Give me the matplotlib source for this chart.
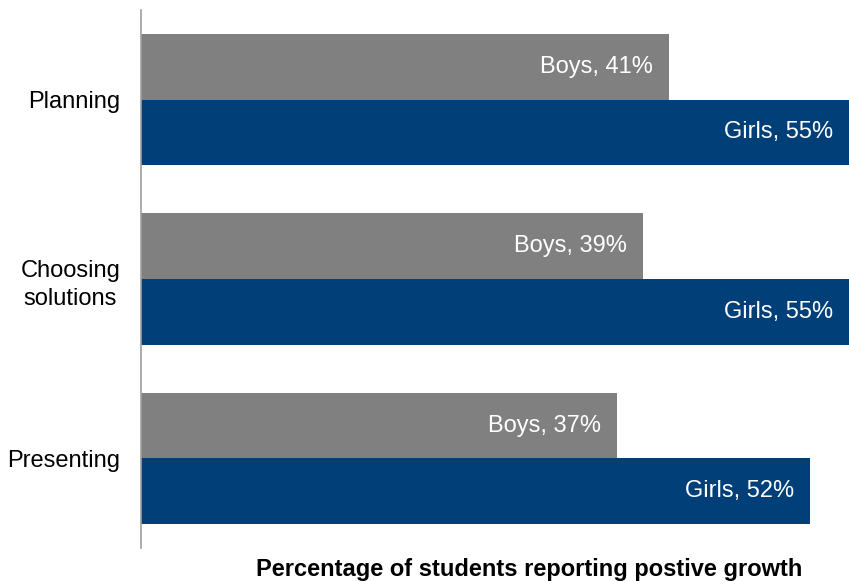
import numpy as np
import matplotlib.pyplot as plt

plt.rcParams['font.family'] = ['Liberation Sans', 'DejaVu Sans']

# Skill areas and share of students reporting growth (%)
categories = ['Planning', 'Choosing\nsolutions', 'Presenting']
boys = [41, 39, 37]
girls = [55, 55, 52]

BOYS_COLOR = '#808080'
GIRLS_COLOR = '#003f78'

fig = plt.figure(figsize=(8.49, 5.81), dpi=100)
ax = fig.add_axes([141 / 849, 33 / 581, 708 / 849, 538 / 581])

y = np.arange(len(categories))
bar_h = 0.366

boy_bars = ax.barh(y - bar_h / 2, boys, height=bar_h, color=BOYS_COLOR)
girl_bars = ax.barh(y + bar_h / 2, girls, height=bar_h, color=GIRLS_COLOR)

# value labels sit inside the bar end
for bars, vals, name in [(boy_bars, boys, 'Boys'), (girl_bars, girls, 'Girls')]:
    for bar, v in zip(bars, vals):
        ax.annotate(f'{name}, {v}%', (v, bar.get_y() + bar.get_height() / 2),
                    xytext=(-16, 0), textcoords='offset pixels',
                    ha='right', va='center', color='white', fontsize=17)

ax.set_xlim(0, 55)
ax.set_ylim(len(categories) - 0.5, -0.5)
ax.set_yticks(y)
ax.set_yticklabels(categories, fontsize=17, linespacing=1.4,
                   ha='right', multialignment='center')
ax.tick_params(axis='y', length=0, pad=15)
ax.set_xticks([])

for side in ['top', 'right', 'bottom']:
    ax.spines[side].set_visible(False)
ax.spines['left'].set_color('#a0a0a0')
ax.spines['left'].set_linewidth(1.2)

ax.set_xlabel('Percentage of students reporting postive growth',
              fontsize=17, fontweight='bold', va='center')
ax.xaxis.set_label_coords(0.548, -0.04)

fig.savefig('out.png', dpi=100)
